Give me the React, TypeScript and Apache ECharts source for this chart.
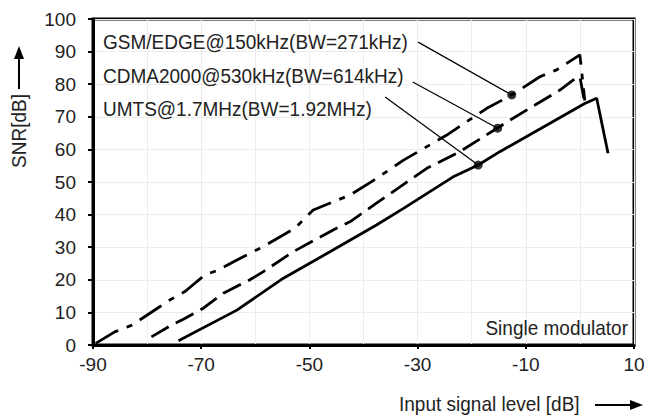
import React, { useEffect, useRef } from "react";
import * as echarts from "echarts";

const umtsX = [-74.2, -63.4, -54.8, -46.2, -37.6, -32.6, -23.5, -18.8, -14.8, 0.9, 3.1, 5.2];
const umtsY = [1.3, 10.7, 20.5, 28.6, 36.8, 41.9, 51.5, 55.2, 59.3, 74.1, 75.7, 58.8];

const cdmaX = [-79.2, -75.5, -73.3, -69.6, -65.9, -61, -58.5, -53, -45.6, -42.5, -37.6, -28.3, -22.2, -15.3, -12.9, -3.7, -1.2, 0, 0.9];
const cdmaY = [2.5, 6.1, 7.9, 11.3, 15.9, 20, 22.5, 28.6, 35.3, 37.8, 43.5, 54.2, 59.3, 66.5, 69, 78.2, 81.3, 82.3, 74.1];

const gsmX = [-89.5, -85.9, -82.8, -77.6, -75.8, -73, -69.3, -66.8, -63.4, -58.5, -52.7, -49.3, -42.5, -38.5, -32.6, -24.6, -17.2, -12.6, -7.4, -4.3, 0, 0.9];
const gsmY = [0.5, 4.1, 6.1, 11.8, 13.8, 16.4, 21.5, 23, 26.1, 30.2, 35.8, 41.4, 46, 50.1, 56.7, 64.4, 72.6, 76.7, 82.3, 84.4, 89, 75];

const seriesNames = ["GSM/EDGE@150kHz(BW=271kHz)", "CDMA2000@530kHz(BW=614kHz)", "UMTS@1.7MHz(BW=1.92MHz)"];
const dotX = [-12.6, -15.2, -18.8];
const dotY = [76.7, 66.5, 55.2];
const labelEndX = [-29.9, -30.9, -36.0];
const labelEndY = [92.9, 80.7, 76.1];

const xName = "Input signal level [dB]";
const yName = "SNR[dB]";
const noteText = "Single modulator";

const FONT = "Liberation Sans, Arial, Helvetica, sans-serif";

const zip = (xs: number[], ys: number[]) => xs.map((x, i) => [x, ys[i]]);

export default function App() {
  const ref = useRef<HTMLDivElement>(null);
  useEffect(() => {
    document.body.style.margin = "0";
    const chart = echarts.init(ref.current!, undefined, { renderer: "svg" });
    const lineBase = { type: "line", showSymbol: false, symbol: "none", silent: true, z: 3 } as any;
    const txt = (text: string, x: number, y: number, align: string, extra: any = {}) => ({
      type: "text", x, y, z: 10, scaleY: 1.1, ...extra,
      style: { text, font: `19px ${FONT}`, fill: "#222", align, verticalAlign: "middle" },
    });
    chart.setOption({
      animation: false,
      backgroundColor: "#fff",
      textStyle: { fontFamily: FONT },
      grid: { left: 93, right: 18, top: 19, bottom: 74, show: true, borderColor: "#000", borderWidth: 3, backgroundColor: "transparent" },
      xAxis: {
        type: "value", min: -90, max: 10, interval: 20,
        axisLine: { show: true, onZero: false, lineStyle: { color: "#000", width: 3 } },
        axisTick: { show: true, length: 4, lineStyle: { color: "#000", width: 2 } },
        axisLabel: { color: "#222", fontSize: 19, fontFamily: FONT, margin: 10 },
        splitLine: { show: true, lineStyle: { color: "#ececec", width: 1 } },
        minorTick: { show: false, splitNumber: 2 },
        minorSplitLine: { show: true, lineStyle: { color: "#ececec", width: 1 } },
      },
      yAxis: {
        type: "value", min: 0, max: 100, interval: 10,
        axisLine: { show: true, onZero: false, lineStyle: { color: "#000", width: 3 } },
        axisTick: { show: true, length: 5, lineStyle: { color: "#000", width: 2 } },
        axisLabel: { color: "#222", fontSize: 19, fontFamily: FONT, margin: 17 },
        splitLine: { show: true, lineStyle: { color: "#ececec", width: 1 } },
      },
      series: [
        { ...lineBase, name: seriesNames[0], data: zip(gsmX, gsmY), lineStyle: { color: "#000", width: 2.8, type: [26, 9, 6, 9] } },
        { ...lineBase, name: seriesNames[1], data: zip(cdmaX, cdmaY), lineStyle: { color: "#000", width: 2.8, type: [20, 8] } },
        {
          ...lineBase, name: seriesNames[2], data: zip(umtsX, umtsY), lineStyle: { color: "#000", width: 2.8, type: "solid" },
          markLine: {
            silent: true, symbol: "none", label: { show: false },
            lineStyle: { color: "#000", width: 1.2, type: "solid" },
            data: dotX.map((dx, i) => [{ coord: [labelEndX[i], labelEndY[i]] }, { coord: [dx, dotY[i]] }]),
          },
        },
        { type: "scatter", data: zip(dotX, dotY), symbolSize: 9, itemStyle: { color: "#000" }, z: 5, silent: true },
      ],
      graphic: [
        ...seriesNames.map((t, i) => txt(t, 103, 42 + i * 33.5, "left")),
        txt(noteText, 628, 328, "right"),
        txt(xName, 399, 404, "left"),
        { type: "line", shape: { x1: 595, y1: 405, x2: 633, y2: 405 }, style: { stroke: "#000", lineWidth: 2 } },
        { type: "polygon", shape: { points: [[643, 405], [630, 400], [630, 410]] }, style: { fill: "#000" } },
        { type: "text", x: 19, y: 131, rotation: Math.PI / 2, scaleY: 1.1, style: { text: yName, font: `19px ${FONT}`, fill: "#222", align: "center", verticalAlign: "middle" } },
        { type: "line", shape: { x1: 19, y1: 89, x2: 19, y2: 57 }, style: { stroke: "#000", lineWidth: 2 } },
        { type: "polygon", shape: { points: [[19, 46], [14, 59], [24, 59]] }, style: { fill: "#000" } },
      ],
    });
    return () => chart.dispose();
  }, []);
  return <div ref={ref} style={{ width: 652, height: 419 }} />;
}
